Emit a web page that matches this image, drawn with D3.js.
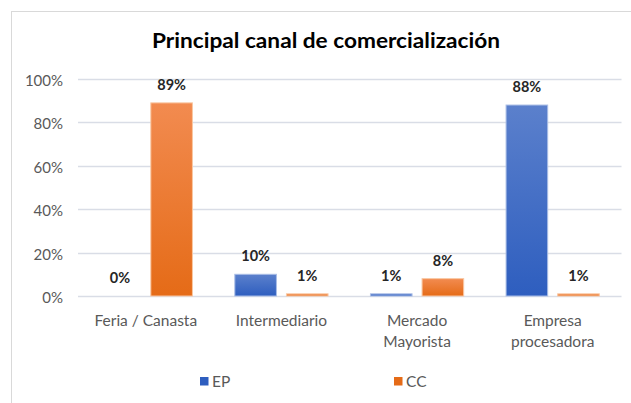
<!DOCTYPE html>
<html>
<head>
<meta charset="utf-8">
<script src="https://cdn.jsdelivr.net/npm/d3@7"></script>
<style>
  body { margin: 0; background: #fff; }
  svg { display: block; font-family: Lato, "Open Sans", sans-serif; }
  .tick-label { fill: #595959; font-size: 15px; }
  .cat-label { fill: #595959; font-size: 15.5px; }
  .value-label { fill: #262626; font-size: 14.5px; font-weight: bold; }
  .title { fill: #000; font-size: 21px; font-weight: bold; }
  .grid { stroke: #d9dde6; stroke-width: 1.3; }
</style>
</head>
<body>
<script>
var width = 631, height = 403;

// data
var categories = [["Feria / Canasta"], ["Intermediario"], ["Mercado", "Mayorista"], ["Empresa", "procesadora"]];
var seriesNames = ["EP", "CC"];
var epValues = [0, 0.10, 0.01, 0.88];
var ccValues = [0.89, 0.01, 0.08, 0.01];
var yTicks = [0, 0.2, 0.4, 0.6, 0.8, 1.0];

var colors = {
    EP: { top: "#5b80cc", bottom: "#2e5ebf", edge: "#a9bde6" },
    CC: { top: "#f28b50", bottom: "#e56b17", edge: "#f9c7a2" }
};

var plotLeft = 78, plotRight = 620.5, plotTop = 79, plotBottom = 296;

var svg = d3.select("body").append("svg")
    .attr("width", width)
    .attr("height", height);

var defs = svg.append("defs");
seriesNames.forEach(function (s) {
    var g = defs.append("linearGradient")
        .attr("id", "grad" + s)
        .attr("x1", 0).attr("x2", 0).attr("y1", 0).attr("y2", 1);
    g.append("stop").attr("offset", "0%").attr("stop-color", colors[s].top);
    g.append("stop").attr("offset", "100%").attr("stop-color", colors[s].bottom);
});

// chart border
svg.append("rect")
    .attr("x", 11.5).attr("y", 11.5)
    .attr("width", 700).attr("height", 500)
    .attr("fill", "none")
    .attr("stroke", "#d9d9d9");

var x0 = d3.scaleBand()
    .domain(d3.range(categories.length))
    .range([plotLeft, plotRight])
    .paddingInner(0)
    .paddingOuter(0);

var groupPad = 21.2;
var x1 = d3.scaleBand()
    .domain(seriesNames)
    .range([groupPad, x0.bandwidth() - groupPad])
    .paddingInner(0.194);

var y = d3.scaleLinear()
    .domain([0, 1])
    .range([plotBottom, plotTop]);

// grid + y labels
svg.append("g").selectAll("line")
    .data(yTicks)
    .enter().append("line")
    .attr("class", "grid")
    .attr("x1", plotLeft)
    .attr("x2", plotRight + 1)
    .attr("y1", function (d) { return Math.round(y(d)) + 0.5; })
    .attr("y2", function (d) { return Math.round(y(d)) + 0.5; });

svg.append("g").selectAll("text")
    .data(yTicks)
    .enter().append("text")
    .attr("class", "tick-label")
    .attr("x", 63)
    .attr("y", function (d) { return y(d) + 1; })
    .attr("text-anchor", "end")
    .attr("dominant-baseline", "central")
    .text(d3.format(".0%"));

// title
svg.append("text")
    .attr("class", "title")
    .attr("x", 326)
    .attr("y", 48)
    .attr("text-anchor", "middle")
    .attr("textLength", 348)
    .attr("lengthAdjust", "spacingAndGlyphs")
    .text("Principal canal de comercialización");

// bars
var rows = categories.map(function (c, i) {
    return [
        { series: "EP", value: epValues[i], cat: i },
        { series: "CC", value: ccValues[i], cat: i }
    ];
});

var groups = svg.append("g").selectAll("g")
    .data(rows)
    .enter().append("g")
    .attr("transform", function (d, i) { return "translate(" + x0(i) + ",0)"; });

groups.selectAll("rect")
    .data(function (d) { return d; })
    .enter().append("rect")
    .attr("x", function (d) { return x1(d.series); })
    .attr("width", x1.bandwidth())
    .attr("y", function (d) { return y(d.value); })
    .attr("height", function (d) { return y(0) - y(d.value); })
    .attr("fill", function (d) { return "url(#grad" + d.series + ")"; })
    .attr("stroke", function (d) { return d.value > 0 ? colors[d.series].edge : "none"; })
    .attr("stroke-width", 1);

groups.selectAll("text")
    .data(function (d) { return d; })
    .enter().append("text")
    .attr("class", "value-label")
    .attr("x", function (d) { return x1(d.series) + x1.bandwidth() / 2; })
    .attr("y", function (d) { return y(d.value) - 13; })
    .attr("text-anchor", "middle")
    .text(function (d) { return d3.format(".0%")(d.value); });

// category labels
var cats = svg.append("g").selectAll("text")
    .data(categories)
    .enter().append("text")
    .attr("class", "cat-label")
    .attr("text-anchor", "middle")
    .attr("x", function (d, i) { return x0(i) + x0.bandwidth() / 2; })
    .attr("y", 326);

cats.selectAll("tspan")
    .data(function (d) { return d; })
    .enter().append("tspan")
    .attr("x", function () { return d3.select(this.parentNode).attr("x"); })
    .attr("dy", function (d, i) { return i == 0 ? 0 : 20.5; })
    .text(function (d) { return d; });

// legend
var legendX = [200, 394];
var legend = svg.append("g").selectAll("g")
    .data(seriesNames)
    .enter().append("g")
    .attr("transform", function (d, i) { return "translate(" + legendX[i] + ",377)"; });

legend.append("rect")
    .attr("width", 8.5)
    .attr("height", 8.5)
    .attr("fill", function (d) { return colors[d].bottom; });

legend.append("text")
    .attr("class", "cat-label")
    .attr("x", 12)
    .attr("y", 9.5)
    .text(function (d) { return d; });
</script>
</body>
</html>
